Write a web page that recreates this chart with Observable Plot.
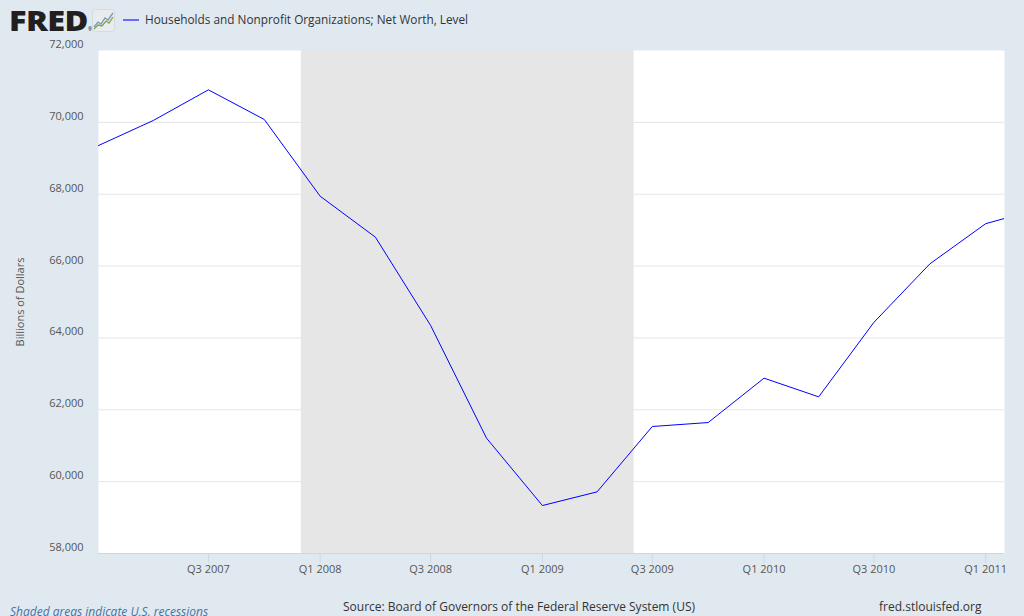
<!DOCTYPE html>
<html><head><meta charset="utf-8">
<script src="https://cdn.jsdelivr.net/npm/d3@7"></script>
<script src="https://cdn.jsdelivr.net/npm/@observablehq/plot@0.6"></script>
<style>
body{margin:0;background:#e1e9f0;font-family:"Open Sans",sans-serif;width:1024px;height:616px;overflow:hidden;position:relative}
.abs{position:absolute;white-space:nowrap}
#logo{left:9px;top:6px;font-size:28px;line-height:28px;font-weight:800;color:#231f20;letter-spacing:-0.5px;transform:scaleX(1.16);transform-origin:left top}
#reg{left:88px;top:27px;font-size:5px;line-height:5px;color:#231f20}
#icon{left:92px;top:9px}
#legline{left:123px;top:19px;width:16px;height:2px;background:#6a6aff}
#legtext{left:145px;top:11px;font-size:11.8px;line-height:16px;color:#333}
#chart{left:0;top:30px}
#shaded{left:10px;top:603px;font-size:12px;font-style:italic;color:#4572a7}
#source{left:343px;top:598px;font-size:12px;color:#333}
#site{left:879px;top:598px;font-size:12px;color:#333}
</style></head>
<body>
<div class="abs" id="chart"></div>
<div class="abs" id="logo">FRED</div>
<div class="abs" id="reg">®</div>
<svg class="abs" id="icon" width="23" height="23" viewBox="0 0 23 23">
<rect x="0.5" y="0.5" width="22" height="22" rx="3" fill="#e9ecef" stroke="#d5dbe0"/>
<polyline points="2,18 6,13 9,15 13,9 16,11 21,4" fill="none" stroke="#7f95b5" stroke-width="1.3"/>
<polyline points="2,20 6,16 10,17 14,12 17,14 21,8" fill="none" stroke="#7aa84a" stroke-width="1.3"/>
</svg>
<div class="abs" id="legline"></div>
<div class="abs" id="legtext">Households and Nonprofit Organizations; Net Worth, Level</div>
<div class="abs" id="shaded">Shaded areas indicate U.S. recessions</div>
<div class="abs" id="source">Source: Board of Governors of the Federal Reserve System (US)</div>
<div class="abs" id="site">fred.stlouisfed.org</div>
<script>
// Data (quarterly, billions of dollars)
const dates = ["2007-01-01","2007-04-01","2007-07-01","2007-10-01","2008-01-01","2008-04-01","2008-07-01","2008-10-01","2009-01-01","2009-04-01","2009-07-01","2009-10-01","2010-01-01","2010-04-01","2010-07-01","2010-10-01","2011-01-01","2011-04-01"];
const netWorth = [69355,70050,70905,70080,67945,66805,64345,61210,59335,59715,61535,61645,62880,62360,64435,66060,67180,67600];
const recessionStart = ["2007-12-01"];
const recessionEnd = ["2009-06-01"];
const xTickDates = ["2007-07-01","2008-01-01","2008-07-01","2009-01-01","2009-07-01","2010-01-01","2010-07-01","2011-01-01"];
const xTickLabels = ["Q3 2007","Q1 2008","Q3 2008","Q1 2009","Q3 2009","Q1 2010","Q3 2010","Q1 2011"];
const yTicks = [58000,60000,62000,64000,66000,68000,70000,72000];
const gridTicks = [60000,62000,64000,66000,68000,70000];

const data = dates.map((d,i)=>({date:new Date(d), value:netWorth[i]}));
const recessions = recessionStart.map((s,i)=>({start:new Date(s), end:new Date(recessionEnd[i])}));
const xt = xTickDates.map(d=>new Date(d));
const labelOf = new Map(xt.map((d,i)=>[+d, xTickLabels[i]]));
const fmt = d3.format(",");

const chart = Plot.plot({
  width:1024, height:550,
  marginLeft:98, marginRight:20, marginTop:20, marginBottom:27,
  style:{fontFamily:"Open Sans, sans-serif", fontSize:"11px", color:"#555", background:"transparent"},
  x:{type:"utc", domain:[new Date("2007-01-01"), new Date("2011-02-01")]},
  y:{domain:[58000,72000]},
  marks:[
    Plot.frame({fill:"white", stroke:null}),
    Plot.ruleY(gridTicks, {stroke:"#e6e6e6", strokeWidth:1}),
    Plot.rect(recessions, {x1:"start", x2:"end", fill:"#e6e6e6"}),
    Plot.ruleY([58000], {stroke:"#ccd6eb", strokeWidth:1}),
    Plot.line(data, {x:"date", y:"value", stroke:"#0000ff", strokeWidth:1, clip:true}),
    Plot.axisX({ticks:xt, tickFormat:d=>labelOf.get(+d), tickSize:10, tickPadding:2, stroke:"#ccd6eb", fill:"#555", label:null}),
    Plot.axisY({ticks:yTicks, tickFormat:fmt, tickSize:0, tickPadding:15, dy:-6, fill:"#555", label:null}),
    Plot.text(["Billions of Dollars"], {frameAnchor:"left", textAnchor:"middle", dx:-78, rotate:-90, fill:"#555", fontSize:11})
  ]
});
document.getElementById("chart").appendChild(chart);
</script>
</body></html>
